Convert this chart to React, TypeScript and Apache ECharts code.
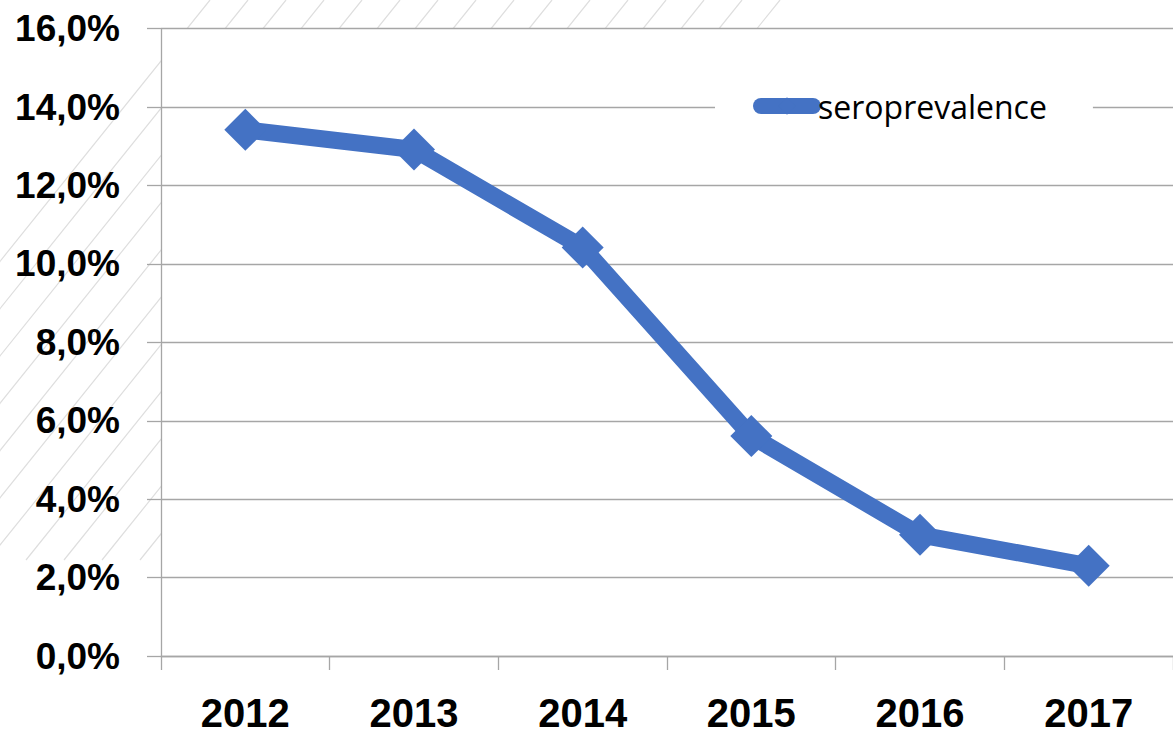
import React, { useEffect, useRef } from "react";
import * as echarts from "echarts";

const years = ["2012", "2013", "2014", "2015", "2016", "2017"];
const seroprevalence = [0.1342, 0.1292, 0.1042, 0.0561, 0.0309, 0.023];
const seriesName = "seroprevalence";

export default function App() {
  const ref = useRef<HTMLDivElement>(null);
  useEffect(() => {
    const chart = echarts.init(ref.current!, null, { renderer: "svg" });
    const gray = "#a6a6a6";
    const deco: any[] = [];
    // faint decorative hatching in the background (top-left)
    for (let i = 0; i < 16; i++) {
      const x0 = -240 + i * 38;
      deco.push({
        type: "line",
        silent: true,
        z: -10,
        shape: { x1: x0, y1: 560, x2: x0 + 450, y2: 0 },
        style: { stroke: "#dedede", lineWidth: 1.2 },
      });
    }
    chart.setOption({
      animation: false,
      backgroundColor: "#ffffff",
      graphic: [
        ...deco,
        {
          type: "rect",
          silent: true,
          z: -5,
          shape: { x: 161, y: 28.7, width: 1020, height: 627 },
          style: { fill: "#ffffff" },
        },
      ],
      grid: { left: 161, top: 28.7, right: -5, bottom: 79 },
      legend: {
        left: 715,
        top: 86,
        padding: [4, 46, 4, 38],
        backgroundColor: "#ffffff",
        itemWidth: 52,
        itemHeight: 22,
        itemGap: 0,
        lineStyle: { width: 16, cap: "round" },
        textStyle: {
          fontFamily: "Open Sans",
          fontSize: 32,
          color: "#000",
        },
        data: [seriesName],
      },
      xAxis: {
        type: "category",
        data: years,
        boundaryGap: true,
        axisLine: { show: true, lineStyle: { color: gray, width: 1.3 } },
        axisTick: { show: true, length: 14, lineStyle: { color: gray, width: 1.3 } },
        axisLabel: {
          color: "#000",
          fontFamily: "Liberation Sans",
          fontWeight: "bold",
          fontSize: 40,
          lineHeight: 30,
          margin: 42,
        },
      },
      yAxis: {
        type: "value",
        min: 0,
        max: 0.16,
        interval: 0.02,
        axisLine: { show: true, lineStyle: { color: gray, width: 1.3 } },
        axisTick: { show: true, length: 14, lineStyle: { color: gray, width: 1.3 } },
        splitLine: { show: true, lineStyle: { color: gray, width: 1.3 } },
        axisLabel: {
          color: "#000",
          fontFamily: "Liberation Sans",
          fontWeight: "bold",
          fontSize: 37,
          margin: 41,
          formatter: (v: number) => (v * 100).toFixed(1).replace(".", ",") + "%",
        },
      },
      series: [
        {
          name: seriesName,
          type: "line",
          data: seroprevalence,
          symbol: "diamond",
          symbolSize: 42,
          lineStyle: { color: "#4472C4", width: 17, cap: "round" },
          itemStyle: { color: "#4472C4" },
        },
      ],
    });
    return () => chart.dispose();
  }, []);
  return (
    <div
      ref={ref}
      style={{ position: "absolute", left: 0, top: 0, width: 1173, height: 735 }}
    />
  );
}
